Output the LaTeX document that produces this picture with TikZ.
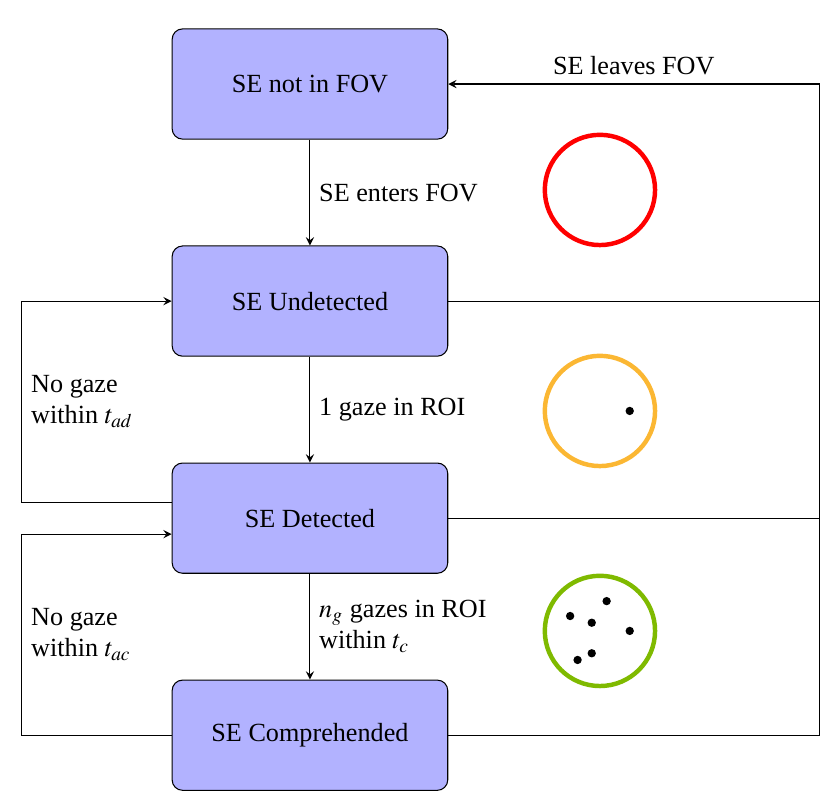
\documentclass[tikz,border=0pt]{standalone}
\usepackage{mathptmx}
\usepackage{fontspec}
\setmainfont{Liberation Serif}
\usetikzlibrary{positioning}
\definecolor{ringorange}{RGB}{251,183,51}
\definecolor{ringgreen}{RGB}{127,186,0}

\begin{document}
\begin{tikzpicture}[
    >=stealth,
    state/.style={draw, rectangle, rounded corners=4pt, fill=blue!30, minimum width=3.7cm, minimum height=1.48cm},
    ring/.style={line width=1.7pt},
    node distance=1.42cm
  ]
  \useasboundingbox (0,0) rectangle (11.25,-10.805);

  \node (nf) [state] at (4.161,-1.128) {SE not in FOV};
  \node (ud) [state, below=of nf] {SE Undetected};
  \node (de) [state, below=of ud] {SE Detected};
  \node (co) [state, below=of de] {SE Comprehended};

  \coordinate (rt) at (11.0,-1.128);
  \coordinate (lt) at (0.295,0);

  \draw[->] (nf) -- node[right] {SE enters FOV} (ud);
  \draw[->] (ud) -- node[right] {1 gaze in ROI} (de);
  \draw[->] (de) -- node[right, align=left] {$n_g$ gazes in ROI\\within $t_c$} (co);

  % back to not in FOV
  \draw[->] (co.east) -| (rt) -- node[above] {SE leaves FOV} (nf.east);
  \draw (ud.east) -- (ud.east -| rt);
  \draw (de.east) -- (de.east -| rt);

  % timeouts
  \draw[->] ([yshift=0.215cm]de.west) -- ([yshift=0.215cm]de.west -| lt)
    -- node[right, align=left] {No gaze\\within $t_{ad}$} (ud.west -| lt) -- (ud.west);
  \draw[->] (co.west) -- (co.west -| lt)
    -- node[right, align=left] {No gaze\\within $t_{ac}$} ([yshift=-0.215cm]de.west -| lt) -- ([yshift=-0.215cm]de.west);

  % gaze rings
  \draw[ring, red] (8.054,-2.55) circle (0.74);
  \draw[ring, ringorange] (8.054,-5.517) circle (0.74);
  \fill (8.454,-5.517) circle (0.056);
  \draw[ring, ringgreen] (8.054,-8.47) circle (0.74);
  \begin{scope}[shift={(8.054,-8.47)}]
    \foreach \p in {(0.09,0.40), (-0.40,0.20), (-0.11,0.11), (0.40,0), (-0.11,-0.30), (-0.30,-0.39)}
      \fill \p circle (0.056);
  \end{scope}
\end{tikzpicture}
\end{document}
